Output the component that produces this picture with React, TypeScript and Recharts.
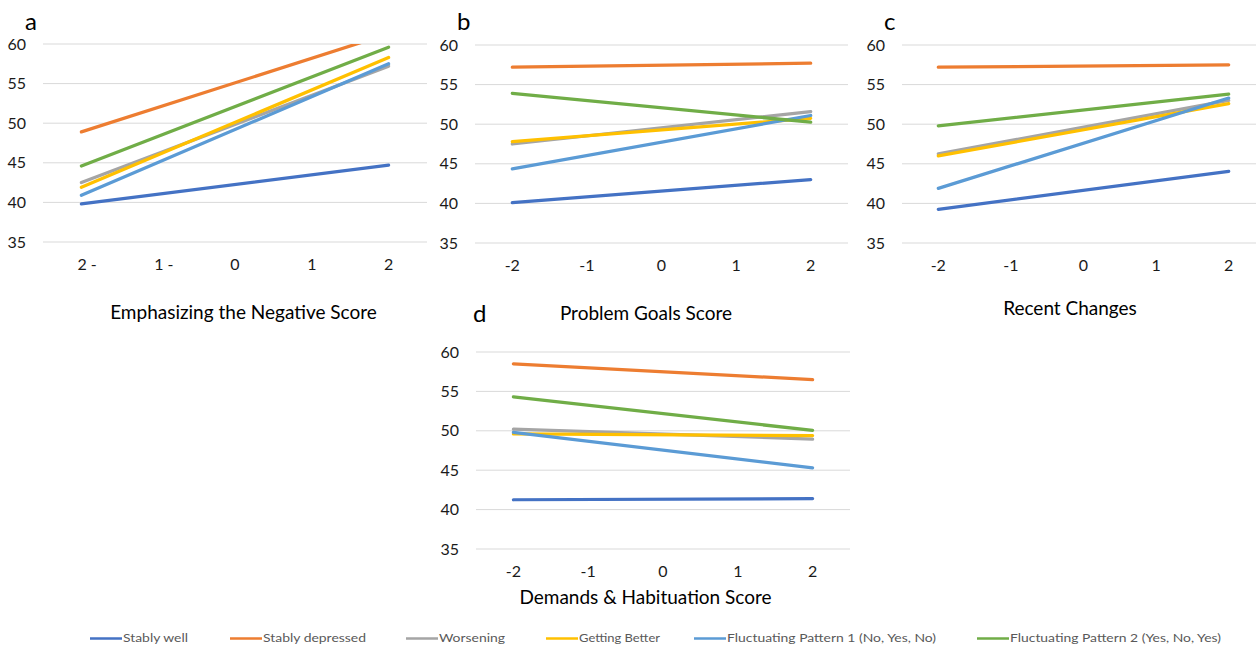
import React from 'react';
import { LineChart, Line, XAxis, YAxis, CartesianGrid } from 'recharts';

const FONT = "Lato, 'Open Sans', sans-serif";

const SERIES = [
  'Stably well',
  'Stably depressed',
  'Worsening',
  'Getting Better',
  'Fluctuating Pattern 1 (No, Yes, No)',
  'Fluctuating Pattern 2 (Yes, No, Yes)',
];
const COLORS = ['#4472C4', '#ED7D31', '#A5A5A5', '#FFC000', '#5B9BD5', '#70AD47'];

// moderator levels where the simple slopes were evaluated
const X_LEVELS = [-2, 2];
const X_TICKS = [-2, -1, 0, 1, 2];
const TICK_LABELS = ['-2', '-1', '0', '1', '2'];
const TICK_LABELS_A = ['2 -', '1 -', '0', '1', '2'];
const Y_TICKS = [35, 40, 45, 50, 55, 60];

// predicted scores at -2 and +2, one entry per trajectory group (SERIES order)
const negativeLow = [39.8, 48.9, 42.5, 41.9, 40.9, 44.6];
const negativeHigh = [44.7, 61.3, 57.2, 58.3, 57.5, 59.6];
const goalsLow = [40.1, 57.2, 47.5, 47.8, 44.35, 53.9];
const goalsHigh = [43.0, 57.7, 51.6, 50.75, 51.1, 50.25];
const changesLow = [39.25, 57.2, 46.25, 46.0, 41.9, 49.8];
const changesHigh = [44.05, 57.5, 53.0, 52.6, 53.3, 53.8];
const demandsLow = [41.25, 58.5, 50.2, 49.6, 49.8, 54.3];
const demandsHigh = [41.4, 56.5, 48.95, 49.4, 45.3, 50.05];

const TICK_FONT_SIZE = 16;
const TICK_COLOR = '#1a1a1a';

type PanelProps = {
  low: number[];
  high: number[];
  tickLabels: string[];
  left: number;
  top: number;
  width: number;
  height: number;
  yWidth: number;
  margin: { top: number; right: number; bottom: number; left: number };
};

// x tick: labels with a trailing dash keep their digit on the tick and run to the right
function makeXTick(labels: string[]) {
  return function XTick(props: any) {
    const { x, y, payload } = props;
    const label = labels[X_TICKS.indexOf(payload.value)];
    const trailing = label.endsWith(' -');
    return (
      <text
        x={trailing ? x - 4 : x}
        y={y}
        dy="0.71em"
        textAnchor={trailing ? 'start' : 'middle'}
        fill={TICK_COLOR}
        fontSize={TICK_FONT_SIZE}
        fontFamily={FONT}
      >
        {label}
      </text>
    );
  };
}

function Panel({ low, high, tickLabels, left, top, width, height, yWidth, margin }: PanelProps) {
  const data = [low, high].map((vals, i) => {
    const row: Record<string, number> = { x: X_LEVELS[i] };
    vals.forEach((v, j) => {
      row['s' + j] = v;
    });
    return row;
  });

  return (
    <div style={{ position: 'absolute', left, top }}>
      <LineChart width={width} height={height} data={data} margin={margin}>
        <CartesianGrid vertical={false} stroke="#D9D9D9" strokeWidth={1} />
        <XAxis
          dataKey="x"
          type="number"
          domain={[-2.5, 2.5]}
          ticks={X_TICKS}
          interval={0}
          axisLine={false}
          tickLine={false}
          tickSize={0}
          tickMargin={17}
          height={40}
          tick={makeXTick(tickLabels)}
        />
        <YAxis
          domain={[35, 60]}
          ticks={Y_TICKS}
          allowDataOverflow
          width={yWidth}
          axisLine={false}
          tickLine={false}
          tickSize={0}
          tickMargin={17}
          tick={{ fill: TICK_COLOR, fontSize: TICK_FONT_SIZE, fontFamily: FONT }}
        />
        {SERIES.map((name, j) => (
          <Line
            key={name}
            type="linear"
            dataKey={'s' + j}
            name={name}
            stroke={COLORS[j]}
            strokeWidth={3.25}
            strokeLinecap="round"
            dot={false}
            activeDot={false}
            isAnimationActive={false}
          />
        ))}
      </LineChart>
    </div>
  );
}

// legend swatch start positions and text widths
const LEGEND_X = [90, 230, 406, 546, 694, 977];
const LEGEND_W = [65, 103, 66, 81, 209, 211];

export default function App() {
  return (
    <div
      style={{
        position: 'absolute',
        left: 0,
        top: 0,
        width: 1256,
        height: 645,
        overflow: 'hidden',
        background: '#fff',
      }}
    >
      <Panel
        low={negativeLow}
        high={negativeHigh}
        tickLabels={TICK_LABELS_A}
        left={0}
        top={0}
        width={440}
        height={290}
        yWidth={43}
        margin={{ top: 44, right: 13, bottom: 8, left: 0 }}
      />
      <Panel
        low={goalsLow}
        high={goalsHigh}
        tickLabels={TICK_LABELS}
        left={420}
        top={0}
        width={440}
        height={291}
        yWidth={55}
        margin={{ top: 45, right: 12, bottom: 8, left: 0 }}
      />
      <Panel
        low={changesLow}
        high={changesHigh}
        tickLabels={TICK_LABELS}
        left={840}
        top={0}
        width={430}
        height={291}
        yWidth={62}
        margin={{ top: 45, right: 5, bottom: 8, left: 0 }}
      />
      <Panel
        low={demandsLow}
        high={demandsHigh}
        tickLabels={TICK_LABELS}
        left={420}
        top={300}
        width={440}
        height={300}
        yWidth={56}
        margin={{ top: 52, right: 10, bottom: 11, left: 0 }}
      />

      <svg
        width={1256}
        height={645}
        style={{ position: 'absolute', left: 0, top: 0, pointerEvents: 'none' }}
        fontFamily={FONT}
      >
        <g fontSize={24} fill="#000">
          <text x={25} y={30}>a</text>
          <text x={457} y={30}>b</text>
          <text x={884} y={30}>c</text>
          <text x={473} y={321.5}>d</text>
        </g>
        <g fontSize={19} fill="#000" textAnchor="middle">
          <text x={243.5} y={318.5}>Emphasizing the Negative Score</text>
          <text x={646} y={319.5}>Problem Goals Score</text>
          <text x={1070} y={315}>Recent Changes</text>
          <text x={645.5} y={604}>Demands &amp; Habituation Score</text>
        </g>
        <g fontSize={11} fill="#595959">
          {SERIES.map((name, i) => (
            <g key={name}>
              <line
                x1={LEGEND_X[i]}
                x2={LEGEND_X[i] + 32}
                y1={638.5}
                y2={638.5}
                stroke={COLORS[i]}
                strokeWidth={2.5}
              />
              <text
                x={LEGEND_X[i] + 33}
                y={642}
                textLength={LEGEND_W[i]}
                lengthAdjust="spacingAndGlyphs"
              >
                {name}
              </text>
            </g>
          ))}
        </g>
      </svg>
    </div>
  );
}
